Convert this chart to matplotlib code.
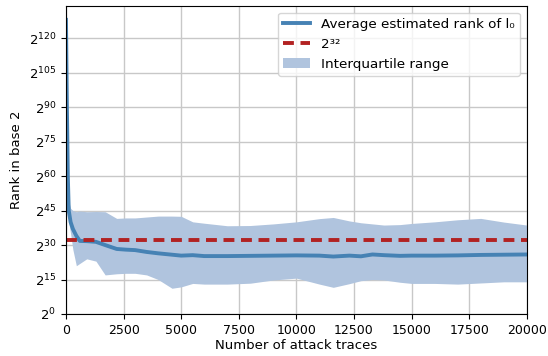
import matplotlib.pyplot as plt

# number of attack traces
traces = [0, 40, 80, 120, 200, 300, 450, 600, 900, 1300, 1700, 2200, 2600, 3000,
          3500, 4000, 4600, 5000, 5500, 6000, 7000, 8000, 9000, 10000, 11000,
          11600, 12300, 12800, 13300, 13800, 14500, 15000, 16000, 17000, 18000,
          19000, 20000]

# log2 of average estimated rank
mean_rank = [128, 90, 60, 45, 40, 37, 34, 31.8, 31.7, 31.4, 30.0, 28.3, 28.0, 27.8,
             27.0, 26.4, 25.8, 25.4, 25.6, 25.2, 25.2, 25.3, 25.4, 25.5, 25.4,
             25.0, 25.4, 25.1, 25.9, 25.6, 25.3, 25.4, 25.4, 25.5, 25.7,
             25.8, 25.9]

# interquartile range (log2)
iqr_low = [100, 70, 48, 40, 35, 28, 21, 22, 24, 23, 17, 17.5, 17.7, 17.7,
           17.0, 15.0, 11.2, 11.8, 13.3, 13.0, 13.0, 13.4, 14.8, 15.6, 13.0,
           11.6, 13.2, 14.5, 15.0, 14.8, 13.8, 13.3, 13.3, 13.0, 13.5,
           14.0, 14.0]
iqr_high = [128, 110, 75, 49, 46, 45, 44.5, 44.8, 44.5, 44.6, 44.5, 41.6, 41.8, 41.8,
            42.2, 42.6, 42.6, 42.5, 40.1, 39.5, 38.4, 38.5, 39.2, 40.1, 41.5,
            42.0, 40.5, 39.7, 39.2, 38.7, 38.9, 39.4, 40.1, 41.0, 41.6,
            40.0, 38.7]

y_ticks = [0, 15, 30, 45, 60, 75, 90, 105, 120]

plt.rcParams['font.size'] = 9

fig = plt.figure(figsize=(5.48, 3.56), dpi=100)
ax = fig.add_axes([0.1204, 0.118, 0.841, 0.865])

ax.fill_between(traces, iqr_low, iqr_high, color='#b0c4de', lw=0,
                label='Interquartile range')
ax.plot(traces, mean_rank, color='#4682b4', lw=2.8,
        label='Average estimated rank of l\u2080')
ax.axhline(32, color='#b22222', lw=2.8, ls=(0, (2.8, 1.7)), label='2\u00b3\u00b2')

ax.set_xlim(0, 20000)
ax.set_ylim(0, 134)
ax.set_yticks(y_ticks)
ax.set_yticklabels(['$2^{%d}$' % t for t in y_ticks], fontsize=9.5)
ax.set_xlabel('Number of attack traces', fontsize=9.5, labelpad=2)
ax.set_ylabel('Rank in base 2', fontsize=9.5)
ax.grid(True, color='#c8c8c8', lw=1)
ax.set_axisbelow(True)

h, l = ax.get_legend_handles_labels()
ax.legend([h[1], h[2], h[0]], [l[1], l[2], l[0]], loc='upper right', fontsize=9.7)

fig.savefig('out.png')
